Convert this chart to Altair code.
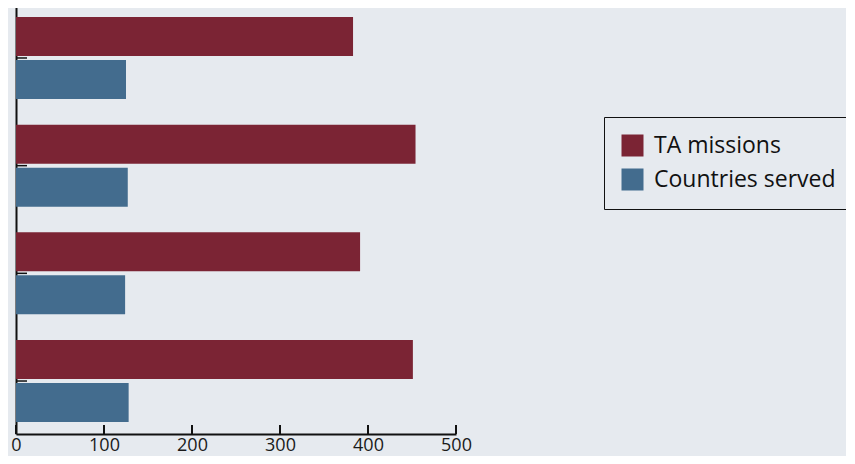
import altair as alt
import pandas as pd

categories = ["2009", "2010", "2011", "2012"]
series_names = ["TA missions", "Countries served"]
ta_missions = [383, 454, 391, 451]
countries_served = [125, 127, 124, 128]
x_ticks = [0, 100, 200, 300, 400, 500]

colors = ["#7b2434", "#436c8e"]
bg = "#e6eaef"

rows = []
for c, a, b in zip(categories, ta_missions, countries_served):
    rows.append({"category": c, "series": series_names[0], "value": a})
    rows.append({"category": c, "series": series_names[1], "value": b})
df = pd.DataFrame(rows)
cat_df = pd.DataFrame({"category": categories})
tick_df = pd.DataFrame({"tick": x_ticks})

H = 426
W = 440

x_scale = alt.Scale(domain=[0, 500], nice=False)
y_scale = alt.Scale(range=[-3, H], paddingInner=0.238, paddingOuter=0.111)

bars = alt.Chart(df).mark_bar().encode(
    x=alt.X("value:Q", scale=x_scale,
            axis=alt.Axis(values=x_ticks, title=None, ticks=False, grid=False,
                          labelFontSize=18, labelFont="Open Sans", labelColor="#1a1a1a",
                          labelPadding=2, domainColor="#111111", domainWidth=2,
                          labelAlign="center")),
    y=alt.Y("category:N", sort=categories, scale=y_scale,
            axis=alt.Axis(title=None, labels=False, ticks=False, grid=False,
                          domainColor="#111111", domainWidth=2)),
    yOffset=alt.YOffset("series:N", sort=series_names, scale=alt.Scale(paddingInner=0.093)),
    color=alt.Color("series:N", sort=series_names,
                    scale=alt.Scale(domain=series_names, range=colors),
                    legend=alt.Legend(title=None, orient="none", legendX=588, legendY=109,
                                      strokeColor="#111111", fillColor=bg, padding=17,
                                      symbolType="square", symbolSize=484,
                                      symbolStrokeWidth=0, labelFontSize=23,
                                      labelFont="Open Sans", labelColor="#111111",
                                      labelLimit=400, rowPadding=10, labelOffset=10)),
)

y_ticks = alt.Chart(cat_df).mark_rule(color="#111111", strokeWidth=1.5).encode(
    y=alt.Y("category:N", sort=categories),
    x=alt.value(0),
    x2=alt.value(11),
)

x_tick_marks = alt.Chart(tick_df).mark_rule(color="#111111", strokeWidth=2).encode(
    x=alt.X("tick:Q", scale=x_scale),
    y=alt.value(H - 9),
    y2=alt.value(H),
)

chart = alt.layer(bars, y_ticks, x_tick_marks).properties(
    width=W, height=H,
    background=bg,
    padding={"left": 8, "top": 0, "right": 390, "bottom": 22},
    autosize=alt.AutoSizeParams(type="none"),
).configure_view(stroke=None, fill=bg)

chart.save("out.html", embed_options={"renderer": "svg", "actions": False})
